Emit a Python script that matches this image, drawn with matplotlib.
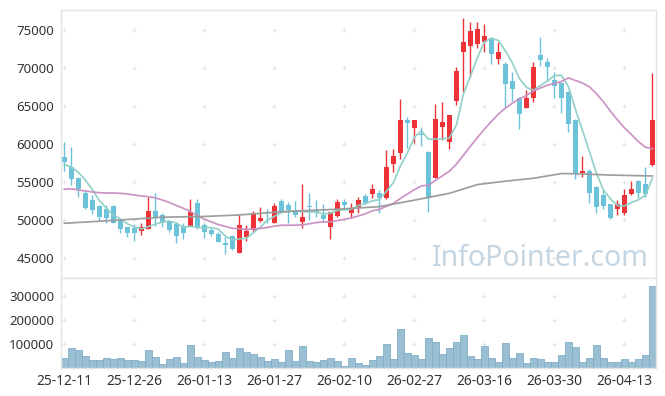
import numpy as np
import matplotlib.pyplot as plt

# x tick labels, one every 10 trading days
tick_pos = [0, 10, 20, 30, 40, 50, 60, 70, 80]
tick_labels = ['25-12-11', '25-12-26', '26-01-13', '26-01-27', '26-02-10',
               '26-02-27', '26-03-16', '26-03-30', '26-04-13']

open_ = [58330, 57050, 55570, 53630, 52670, 51920, 51490, 51880, 50040, 49080,
         48920, 48630, 48900, 51220, 50700, 49910, 49550, 49290, 49290, 52280,
         49380, 48720, 48200, 47050, 47930, 45740, 47760, 48720, 49950, 50950,
         49690, 52500, 51980, 51260, 49780, 51880, 51360, 50700, 49160, 50570,
         52450, 50920, 51790, 53200, 53460, 53550, 52900, 57450, 58900, 63160,
         62190, 61250, 59030, 55610, 62320, 60350, 65740, 72190, 72980, 73160,
         73500, 74030, 71230, 70530, 68330, 66060, 64820, 66060, 71750, 70870,
         68460, 68110, 66890, 63200, 56190, 56490, 54420, 53330, 52150, 51450,
         51000, 53460, 55170, 54780, 57240]
high = [60350, 59650, 55650, 53900, 53290, 52050, 52010, 51950, 50260, 49150,
        49470, 49610, 53030, 53590, 50920, 50000, 49700, 49610, 52800, 52800,
        49610, 48950, 48460, 47840, 48000, 50700, 49400, 51260, 51710, 51450,
        52320, 52800, 52450, 52540, 54780, 53550, 52670, 52150, 51150, 52840,
        52760, 52240, 53030, 53420, 54740, 53990, 59250, 59340, 65920, 63560,
        63200, 62320, 59100, 65270, 65530, 63900, 70220, 76580, 76060, 76060,
        75790, 74100, 73500, 70870, 69560, 66270, 67150, 70870, 74120, 71400,
        69560, 68200, 67000, 63300, 58460, 56710, 54500, 53990, 52200, 52670,
        54080, 55210, 55300, 56980, 69350]
low = [56490, 54650, 53070, 51450, 50790, 49950, 49690, 49600, 48260, 47840,
       47210, 48030, 48850, 49250, 49160, 48500, 46970, 47540, 49200, 48860,
       47630, 47970, 47100, 45530, 46090, 45700, 47280, 48500, 49820, 49690,
       49600, 50920, 49690, 50480, 48950, 50040, 50400, 49950, 47500, 50480,
       51580, 50480, 50920, 52110, 52900, 50920, 52850, 56400, 58030, 59560,
       60210, 59820, 51130, 55500, 60570, 59340, 65170, 66930, 68900, 72640,
       72190, 70530, 70530, 64950, 65700, 62020, 64800, 65530, 70350, 68460,
       66060, 64080, 61660, 55400, 55740, 52240, 51000, 51450, 50200, 50660,
       50660, 53330, 52900, 53110, 57200]
close = [57710, 55440, 54120, 51620, 51360, 50480, 50340, 49690, 48900, 48370,
         48260, 49080, 51260, 50400, 49820, 48760, 47970, 48370, 51130, 49030,
         48500, 48200, 47190, 46710, 46260, 49380, 48590, 50920, 50300, 50900,
         51880, 51230, 51360, 50700, 50480, 51710, 51130, 50170, 51090, 52410,
         52010, 51580, 52670, 52320, 54120, 52900, 57020, 58460, 63160, 62850,
         63160, 61200, 52980, 63290, 62900, 63860, 69650, 73500, 74910, 75180,
         74260, 71850, 72110, 67980, 67320, 64030, 66060, 70180, 71140, 70220,
         67710, 66140, 62670, 56190, 56490, 53630, 51790, 51880, 50260, 52150,
         53330, 54080, 53630, 53460, 63200]
volume = [42000, 83000, 75000, 50000, 33000, 33000, 42000, 37500, 42000, 33000,
          33000, 30500, 75000, 46000, 16700, 37500, 46000, 21000, 96000, 46000,
          33000, 25000, 29000, 67000, 42000, 83000, 67000, 58000, 46000, 29000,
          37500, 25000, 75000, 29000, 92000, 29000, 25000, 33000, 42000, 29000,
          8300, 42000, 21000, 12500, 33000, 50000, 100000, 37500, 162500, 62500,
          54000, 37500, 125000, 108000, 58000, 83000, 108000, 137500, 50000, 37500,
          92000, 42000, 25000, 104000, 42000, 62500, 21000, 42000, 37500, 25000,
          25000, 54000, 108000, 87500, 25000, 42000, 96000, 42000, 25000, 25000,
          37500, 25000, 37500, 54000, 339000]

ma5 = [57370, 56980, 56320, 55300, 54050, 52604, 51584, 50698, 50154, 49556,
       49112, 48860, 49174, 49474, 49764, 49864, 49642, 49064, 49210, 49052,
       49000, 49046, 48810, 47926, 47372, 47548, 47626, 48372, 49090, 50018,
       50518, 51046, 51134, 51214, 51130, 51096, 51076, 50838, 50916, 51302,
       51362, 51452, 51952, 52198, 52540, 52718, 53806, 54964, 57132, 58878,
       60930, 61766, 60670, 60696, 60706, 60846, 62536, 66640, 68964, 71420,
       73500, 73940, 73662, 72276, 70704, 68658, 67500, 67114, 67746, 68326,
       69062, 69078, 67576, 64586, 61840, 59024, 56154, 53996, 52810, 51942,
       51882, 52340, 52690, 53330, 55540]
ma20 = [54080, 54150, 53990, 53860, 53720, 53630, 53590, 53590, 53550, 53460,
        53330, 53200, 53110, 52940, 52670, 52340, 51950, 51580, 51160, 50606,
        50145, 49783, 49437, 49191, 48936, 48881, 48794, 48855, 48925, 49052,
        49233, 49340, 49345, 49360, 49393, 49541, 49699, 49789, 49787, 49956,
        50131, 50300, 50574, 50855, 51248, 51424, 51845, 52222, 52865, 53463,
        54027, 54525, 54606, 55236, 55857, 56464, 57390, 58557, 59748, 60886,
        61999, 63012, 63984, 64767, 65427, 65984, 66436, 67022, 67421, 67789,
        68017, 68264, 68748, 68393, 68073, 67561, 66668, 65587, 64355, 63203,
        62157, 61268, 60344, 59618, 59412]
# long average, read at a few points
ma120_idx = [0, 8, 14, 20, 25, 31, 39, 45, 50, 55, 59, 63, 67, 71, 74, 78, 84]
ma120 = [49600, 50040, 50400, 50500, 50700, 51130, 51450, 51790, 52650, 53550,
         54700, 55150, 55530, 56150, 56100, 55950, 55830]

UP = '#ee3338'
DOWN = '#6cc2d8'
FONT = 'Noto Sans'

fig = plt.figure(figsize=(6.65, 3.96), dpi=100)
ax = fig.add_axes([61/665, 1-278/396, 595/665, 268/396])
axv = fig.add_axes([61/665, 1-368/396, 595/665, 90/396], sharex=ax)

x = np.arange(len(close))
o = np.array(open_); c = np.array(close)
cols = [UP if cc >= oo else DOWN for oo, cc in zip(o, c)]

ax.vlines(x, low, high, colors=cols, lw=1.0, zorder=2)
body_h = np.maximum(np.abs(c - o), 130)
ax.bar(x, body_h, bottom=np.minimum(o, c), width=0.72, color=cols, lw=0, zorder=2)

ax.plot(x, ma5, color='#8ecfc6', lw=1.25, alpha=0.95, zorder=3)
ax.plot(x, ma20, color='#c98ec2', lw=1.25, alpha=0.95, zorder=3)
ax.plot(ma120_idx, ma120, color='#999999', lw=1.25, alpha=0.95, zorder=3)

axv.bar(x, volume, width=1.0, color='#9bbfd2', edgecolor='#80aec9', lw=0.6, zorder=2)

yt_main = [45000, 50000, 55000, 60000, 65000, 70000, 75000]
yt_vol = [100000, 200000, 300000]
ax.set_ylim(42400, 77680)
axv.set_ylim(0, 374000)
ax.set_xlim(-0.47, 84.5)
ax.set_yticks(yt_main)
axv.set_yticks(yt_vol)
axv.set_xticks(tick_pos)
axv.set_xticklabels(tick_labels)
plt.setp(ax.get_xticklabels(), visible=False)

# grid drawn as small crosses at tick intersections
gx, gy = np.meshgrid(tick_pos, yt_main)
ax.plot(gx.ravel(), gy.ravel(), '+', color='#e4e4e4', ms=3.5, mew=0.8, zorder=1)
gx, gy = np.meshgrid(tick_pos, yt_vol)
axv.plot(gx.ravel(), gy.ravel(), '+', color='#e4e4e4', ms=3.5, mew=0.8, zorder=1)

for a in (ax, axv):
    for s in a.spines.values():
        s.set_color('#e3e3e3')
        s.set_linewidth(1.0)
    a.tick_params(length=0, pad=5, labelsize=9.5, labelcolor='#333333')
    for t in a.get_yticklabels() + a.get_xticklabels():
        t.set_fontfamily(FONT)
axv.tick_params(axis='x', labelsize=10, pad=4)

ax.text(0.987, 0.045, 'InfoPointer.com', transform=ax.transAxes, ha='right',
        va='baseline', fontsize=20.5, color='#c4d6e3', family=FONT, zorder=1)

fig.savefig('out.png', dpi=100)
